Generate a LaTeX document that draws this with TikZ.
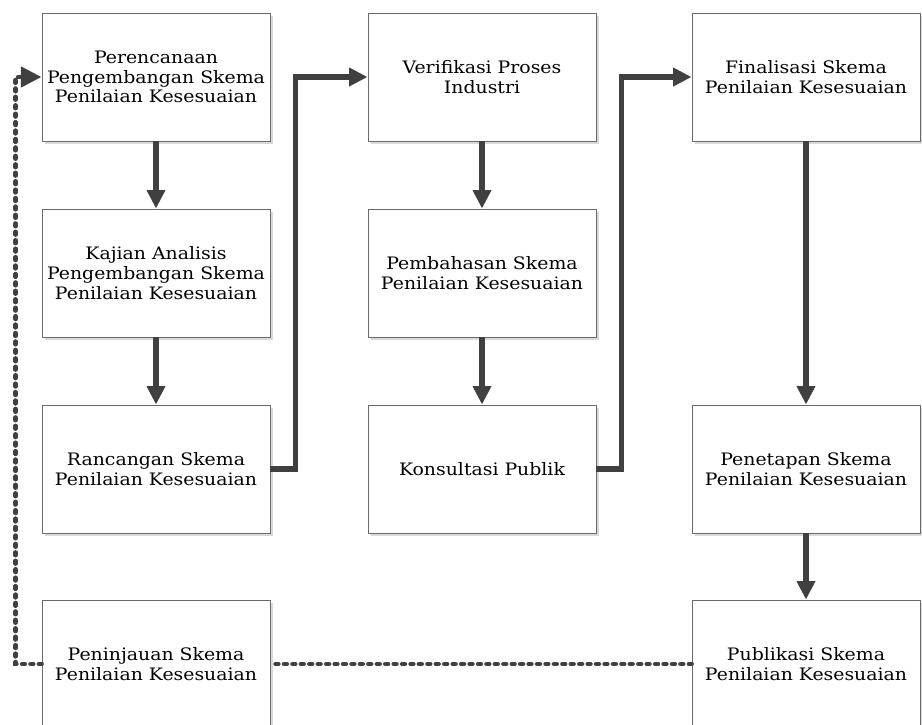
\documentclass[tikz,border=0pt]{standalone}
\usepackage{fontspec}
\setmainfont[FakeStretch=1.1]{DejaVu Serif}
\usetikzlibrary{arrows.meta,shadows}
\definecolor{linegray}{HTML}{404040}
\definecolor{boxgray}{HTML}{6A6A6A}
\begin{document}
\begin{tikzpicture}[
		stage/.style={rectangle, draw=boxgray, line width=0.6pt, fill=white, minimum width=5.7cm, minimum height=3.2cm, align=center, font=\fontsize{12.2}{14}\selectfont, drop shadow={shadow xshift=2pt, shadow yshift=-2pt, fill=black!15, opacity=1}},
		flow/.style={-{Triangle[length=0.46cm, width=0.44cm]}, line width=3.6pt, linegray},
		feedback/.style={-{Triangle[length=0.52cm, width=0.5cm]}, line width=3.4pt, linegray, line cap=round, dash pattern=on 1.8pt off 4.2pt}
		]
		
		\useasboundingbox (0,0) rectangle (23.05,-18.125);
		
		\node[stage] (perencanaan) at (3.9,-1.925) {Perencanaan\\Pengembangan Skema\\Penilaian Kesesuaian};
		\node[stage] (kajian) at (3.9,-6.825) {Kajian Analisis\\Pengembangan Skema\\Penilaian Kesesuaian};
		\node[stage] (rancangan) at (3.9,-11.725) {Rancangan Skema\\Penilaian Kesesuaian};
		\node[stage] (peninjauan) at (3.9,-16.6) {Peninjauan Skema\\Penilaian Kesesuaian};
		
		\node[stage] (verifikasi) at (12.05,-1.925) {Verifikasi Proses\\Industri};
		\node[stage] (pembahasan) at (12.05,-6.825) {Pembahasan Skema\\Penilaian Kesesuaian};
		\node[stage] (konsultasi) at (12.05,-11.725) {Konsultasi Publik};
		
		\node[stage] (finalisasi) at (20.15,-1.925) {Finalisasi Skema\\Penilaian Kesesuaian};
		\node[stage] (penetapan) at (20.15,-11.725) {Penetapan Skema\\Penilaian Kesesuaian};
		\node[stage] (publikasi) at (20.15,-16.6) {Publikasi Skema\\Penilaian Kesesuaian};
		
		\foreach \a/\b in {perencanaan/kajian, kajian/rancangan, verifikasi/pembahasan, pembahasan/konsultasi, finalisasi/penetapan, penetapan/publikasi} {
			\draw[flow] (\a.south) -- (\b.north);
		}
		
		\draw[flow] (rancangan.east) -- ++(0.625,0) |- (verifikasi.west);
		\draw[flow] (konsultasi.east) -- ++(0.625,0) |- (finalisasi.west);
		
		\draw[feedback, -] (publikasi.west) -- (peninjauan.east);
		\draw[feedback] (peninjauan.west) -- ++(-0.65,0) |- (perencanaan.west);
		
	\end{tikzpicture}
\end{document}
